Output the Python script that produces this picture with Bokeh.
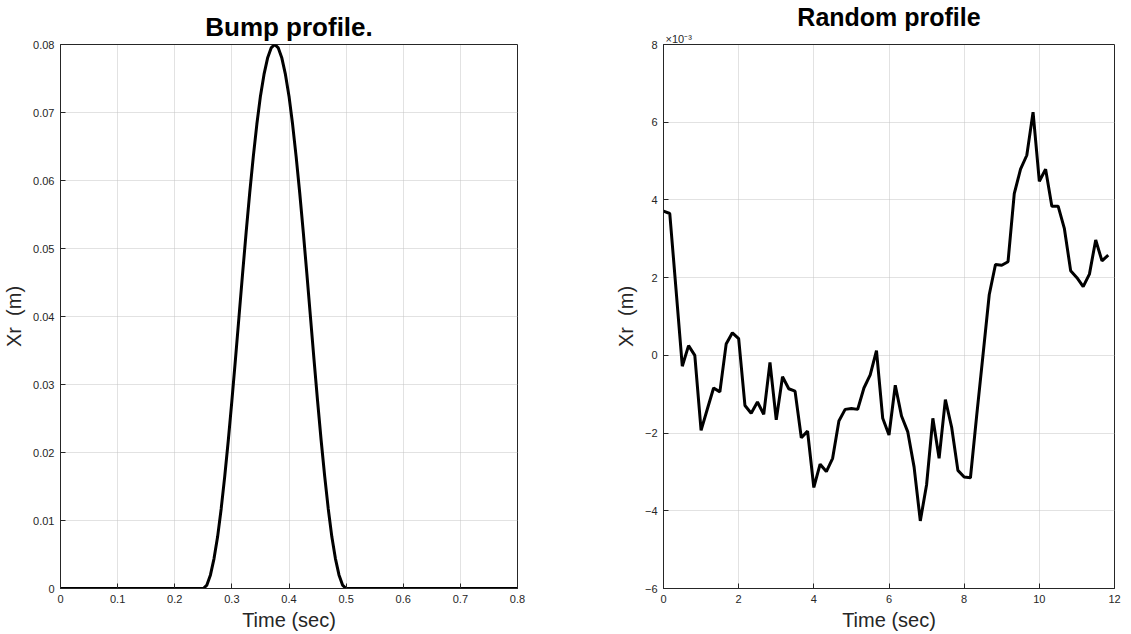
from bokeh.plotting import figure
from bokeh.layouts import row
from bokeh.models import FixedTicker, Range1d, Title
from bokeh.embed import file_html
from bokeh.resources import INLINE

# ---- data: bump profile ----
bump_t = [0.0, 0.25, 0.25625, 0.2625, 0.26875, 0.275, 0.28125, 0.2875, 0.29375, 0.3, 0.30625,
          0.3125, 0.31875, 0.325, 0.33125, 0.3375, 0.34375, 0.35, 0.35625, 0.3625, 0.36875,
          0.375, 0.38125, 0.3875, 0.39375, 0.4, 0.40625, 0.4125, 0.41875, 0.425, 0.43125,
          0.4375, 0.44375, 0.45, 0.45625, 0.4625, 0.46875, 0.475, 0.48125, 0.4875, 0.49375,
          0.5, 0.8]
bump_x = [0.0, 0.0, 0.0005, 0.0020, 0.0044, 0.0076, 0.0117, 0.0165, 0.0218, 0.0276, 0.0337,
          0.0400, 0.0463, 0.0524, 0.0582, 0.0635, 0.0683, 0.0724, 0.0756, 0.0780, 0.0795,
          0.0800, 0.0795, 0.0780, 0.0756, 0.0724, 0.0683, 0.0635, 0.0582, 0.0524, 0.0463,
          0.0400, 0.0337, 0.0276, 0.0218, 0.0165, 0.0117, 0.0076, 0.0044, 0.0020, 0.0005,
          0.0, 0.0]
bump_xticks = [0, 0.1, 0.2, 0.3, 0.4, 0.5, 0.6, 0.7, 0.8]
bump_xlabels = ["0", "0.1", "0.2", "0.3", "0.4", "0.5", "0.6", "0.7", "0.8"]
bump_yticks = [0, 0.01, 0.02, 0.03, 0.04, 0.05, 0.06, 0.07, 0.08]
bump_ylabels = ["0", "0.01", "0.02", "0.03", "0.04", "0.05", "0.06", "0.07", "0.08"]

# ---- data: random profile (values in units of 1e-3 m) ----
rand_t = [0.0, 0.167, 0.333, 0.5, 0.667, 0.833, 1.0, 1.167, 1.333, 1.5, 1.667, 1.833,
          2.0, 2.167, 2.333, 2.5, 2.667, 2.833, 3.0, 3.167, 3.333, 3.5, 3.667, 3.833,
          4.0, 4.167, 4.333, 4.5, 4.667, 4.833, 5.0, 5.167, 5.333, 5.5, 5.667, 5.833,
          6.0, 6.167, 6.333, 6.5, 6.667, 6.833, 7.0, 7.167, 7.333, 7.5, 7.667, 7.833,
          8.0, 8.167, 8.333, 8.5, 8.667, 8.833, 9.0, 9.167, 9.333, 9.5, 9.667, 9.833,
          10.0, 10.167, 10.333, 10.5, 10.667, 10.833, 11.0, 11.167, 11.333, 11.5, 11.667, 11.833]
rand_x = [3.71, 3.65, 1.70, -0.28, 0.25, 0.0, -1.93, -1.38, -0.84, -0.94, 0.29, 0.58,
          0.43, -1.29, -1.49, -1.20, -1.52, -0.18, -1.66, -0.55, -0.86, -0.92, -2.12, -1.95,
          -3.40, -2.80, -2.99, -2.65, -1.69, -1.39, -1.37, -1.39, -0.84, -0.50, 0.12, -1.62,
          -2.05, -0.77, -1.56, -1.97, -2.87, -4.26, -3.33, -1.62, -2.65, -1.14, -1.85, -2.96,
          -3.13, -3.15, -1.55, 0.0, 1.56, 2.34, 2.32, 2.41, 4.16, 4.79, 5.15, 6.26,
          4.48, 4.79, 3.84, 3.84, 3.26, 2.18, 2.0, 1.77, 2.09, 2.97, 2.43, 2.58]
rand_xticks = [0, 2, 4, 6, 8, 10, 12]
rand_yticks = [-6, -4, -2, 0, 2, 4, 6, 8]
rand_scale = "×10⁻³"

XLABEL = "Time (sec)"
YLABEL = "Xr \u00a0(m)"

FONT = "Liberation Sans"
AX = "#262626"


def style(p, xticks, yticks, xlabels=None, ylabels=None):
    p.title.text_font = FONT
    p.title.text_font_size = "26px"
    p.title.text_font_style = "bold"
    p.title.text_color = "black"
    p.title.align = "center"
    p.title.offset = 0
    p.title.standoff = 6
    p.outline_line_color = AX
    p.outline_line_width = 1
    p.background_fill_color = "white"
    p.border_fill_color = "white"
    for ax in (p.xaxis[0], p.yaxis[0]):
        ax.axis_line_color = AX
        ax.major_tick_line_color = AX
        ax.major_tick_in = 5
        ax.major_tick_out = 0
        ax.minor_tick_line_color = None
        ax.major_label_text_font = FONT
        ax.major_label_text_font_size = "11px"
        ax.major_label_text_color = AX
        ax.axis_label_text_font = FONT
        ax.axis_label_text_font_size = "20px"
        ax.axis_label_text_font_style = "normal"
        ax.axis_label_text_color = AX
    p.xaxis[0].ticker = FixedTicker(ticks=xticks)
    p.yaxis[0].ticker = FixedTicker(ticks=yticks)
    p.xaxis[0].major_label_standoff = 6
    p.yaxis[0].major_label_standoff = 6
    p.xaxis[0].axis_label_standoff = 3
    p.yaxis[0].axis_label_standoff = 5
    if xlabels:
        p.xaxis[0].major_label_overrides = {t: l for t, l in zip(xticks, xlabels)}
    if ylabels:
        p.yaxis[0].major_label_overrides = {t: l for t, l in zip(yticks, ylabels)}
    for g in (p.xgrid[0], p.ygrid[0]):
        g.grid_line_color = "#c4c4c4"
        g.grid_line_dash = "1 1"
        g.grid_line_width = 1


H = 633

p1 = figure(width=600, height=H, output_backend="svg", toolbar_location=None,
            title="Bump profile.", x_range=Range1d(0, 0.8), y_range=Range1d(0, 0.08),
            x_axis_label=XLABEL, y_axis_label=YLABEL,
            min_border_left=59, min_border_right=83, min_border_top=42, min_border_bottom=45)
style(p1, bump_xticks, bump_yticks, bump_xlabels, bump_ylabels)
p1.line(bump_t, bump_x, line_color="black", line_width=3)

p2 = figure(width=523, height=H, output_backend="svg", toolbar_location=None,
            title="Random profile", x_range=Range1d(0, 12), y_range=Range1d(-6, 8),
            x_axis_label=XLABEL, y_axis_label=YLABEL,
            min_border_left=63, min_border_right=9, min_border_top=42, min_border_bottom=45)
style(p2, rand_xticks, rand_yticks)
p2.title.text_font_size = "25px"
p2.title.standoff = 0
p2.line(rand_t, rand_x, line_color="black", line_width=3)

# exponent of the y scale, just above the frame's top-left corner
scale_title = Title(text=rand_scale, align="left", text_font=FONT, text_font_size="11px",
                    text_font_style="normal", text_color=AX, offset=2, standoff=0)
p2.add_layout(scale_title, "above")

layout = row(p1, p2)
open("out.html", "w").write(file_html(layout, INLINE))
